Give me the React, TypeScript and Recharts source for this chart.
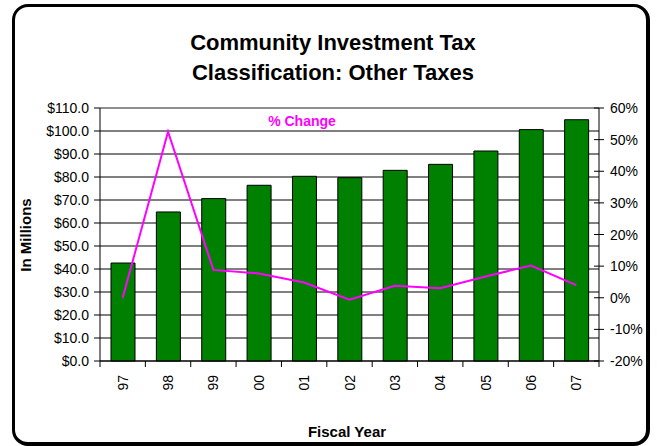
import { ComposedChart, Bar, Line, XAxis, YAxis, CartesianGrid, ReferenceLine } from 'recharts'

const years = ['97', '98', '99', '00', '01', '02', '03', '04', '05', '06', '07']
const revenue = [42.6, 64.8, 70.6, 76.4, 80.3, 79.7, 82.9, 85.5, 91.3, 100.6, 104.9]
const pctChange = [0, 52.5, 8.8, 7.7, 4.8, -0.6, 3.8, 3.0, 6.7, 10.2, 4.0]
const leftTicks = [0, 10, 20, 30, 40, 50, 60, 70, 80, 90, 100, 110]
const rightTicks = [-20, -10, 0, 10, 20, 30, 40, 50, 60]

const W = 657
const H = 446
const PLOT_LEFT = 100
const PLOT_RIGHT = 599
const FONT = '"Liberation Sans", Arial, sans-serif'
const bandWidth = (PLOT_RIGHT - PLOT_LEFT) / years.length

const data = years.map((year, i) => ({ year, revenue: revenue[i], pct: pctChange[i] }))

function LeftTick({ x, y, payload }: any) {
  return (
    <g>
      <line x1={x - 6} x2={x} y1={y} y2={y} stroke="#000" />
      <text x={x - 11} y={y} textAnchor="end" dominantBaseline="central" fontFamily={FONT} fontSize={14} fill="#000">
        {`$${payload.value.toFixed(1)}`}
      </text>
    </g>
  )
}

function RightTick({ x, y, payload }: any) {
  return (
    <g>
      <line x1={x - 5} x2={x + 5} y1={y} y2={y} stroke="#000" />
      <text x={x + 11} y={y} textAnchor="start" dominantBaseline="central" fontFamily={FONT} fontSize={14} fill="#000">
        {`${payload.value}%`}
      </text>
    </g>
  )
}

function YearTick({ x, y, payload, index }: any) {
  const last = index === years.length - 1
  return (
    <g>
      <line x1={x - bandWidth / 2} x2={x - bandWidth / 2} y1={y} y2={y + 6} stroke="#000" />
      {last && <line x1={x + bandWidth / 2} x2={x + bandWidth / 2} y1={y} y2={y + 6} stroke="#000" />}
      <text
        x={x}
        y={y + 14}
        transform={`rotate(-90, ${x}, ${y + 14})`}
        textAnchor="end"
        dominantBaseline="central"
        fontFamily={FONT}
        fontSize={14}
        fill="#000"
      >
        {payload.value}
      </text>
    </g>
  )
}

export default function App() {
  return (
    <div style={{ position: 'absolute', left: 0, top: 0, width: W, height: H, background: '#fff' }}>
      <ComposedChart
        width={W}
        height={H}
        data={data}
        margin={{ top: 108, right: 0, bottom: 45, left: 40 }}
      >
        <CartesianGrid vertical={false} stroke="#000" yAxisId="left" />
        <ReferenceLine y={110} yAxisId="left" stroke="#a0a0a0" />
        <XAxis
          dataKey="year"
          height={40}
          tickSize={0}
          tickMargin={0}
          tickLine={false}
          axisLine={{ stroke: '#000' }}
          tick={<YearTick />}
          interval={0}
        />
        <YAxis
          yAxisId="left"
          width={60}
          domain={[0, 110]}
          ticks={leftTicks}
          tickSize={0}
          tickMargin={0}
          tickLine={false}
          axisLine={{ stroke: '#000' }}
          tick={<LeftTick />}
          interval={0}
        />
        <YAxis
          yAxisId="right"
          orientation="right"
          width={58}
          domain={[-20, 60]}
          ticks={rightTicks}
          tickSize={0}
          tickMargin={0}
          tickLine={false}
          axisLine={{ stroke: '#000' }}
          tick={<RightTick />}
          interval={0}
        />
        <Bar yAxisId="left" dataKey="revenue" barSize={24} fill="#008000" stroke="#000" strokeWidth={1} isAnimationActive={false} />
        <Line yAxisId="right" type="linear" dataKey="pct" stroke="#ff00ff" strokeWidth={2} dot={false} isAnimationActive={false} />
      </ComposedChart>
      <svg width={W} height={H} style={{ position: 'absolute', left: 0, top: 0, pointerEvents: 'none' }}>
        <text x={333} y={50} textAnchor="middle" fontFamily={FONT} fontSize={22} fontWeight="bold" fill="#000">
          Community Investment Tax
        </text>
        <text x={333} y={80} textAnchor="middle" fontFamily={FONT} fontSize={22} fontWeight="bold" fill="#000">
          Classification: Other Taxes
        </text>
        <text x={302} y={126} textAnchor="middle" fontFamily={FONT} fontSize={14} fontWeight="bold" fill="#ff00ff">
          % Change
        </text>
        <text
          x={25}
          y={235}
          transform="rotate(-90, 25, 235)"
          textAnchor="middle"
          dominantBaseline="central"
          fontFamily={FONT}
          fontSize={15}
          fontWeight="bold"
          fill="#000"
        >
          In Millions
        </text>
        <text x={347} y={437} textAnchor="middle" fontFamily={FONT} fontSize={15} fontWeight="bold" fill="#000">
          Fiscal Year
        </text>
      </svg>
      <div
        style={{
          position: 'absolute',
          left: 12,
          top: 4,
          width: 638,
          height: 442,
          boxSizing: 'border-box',
          borderStyle: 'solid',
          borderColor: '#000',
          borderWidth: '3px 4px 4px 3px',
          borderRadius: 16,
          pointerEvents: 'none',
        }}
      />
    </div>
  )
}
